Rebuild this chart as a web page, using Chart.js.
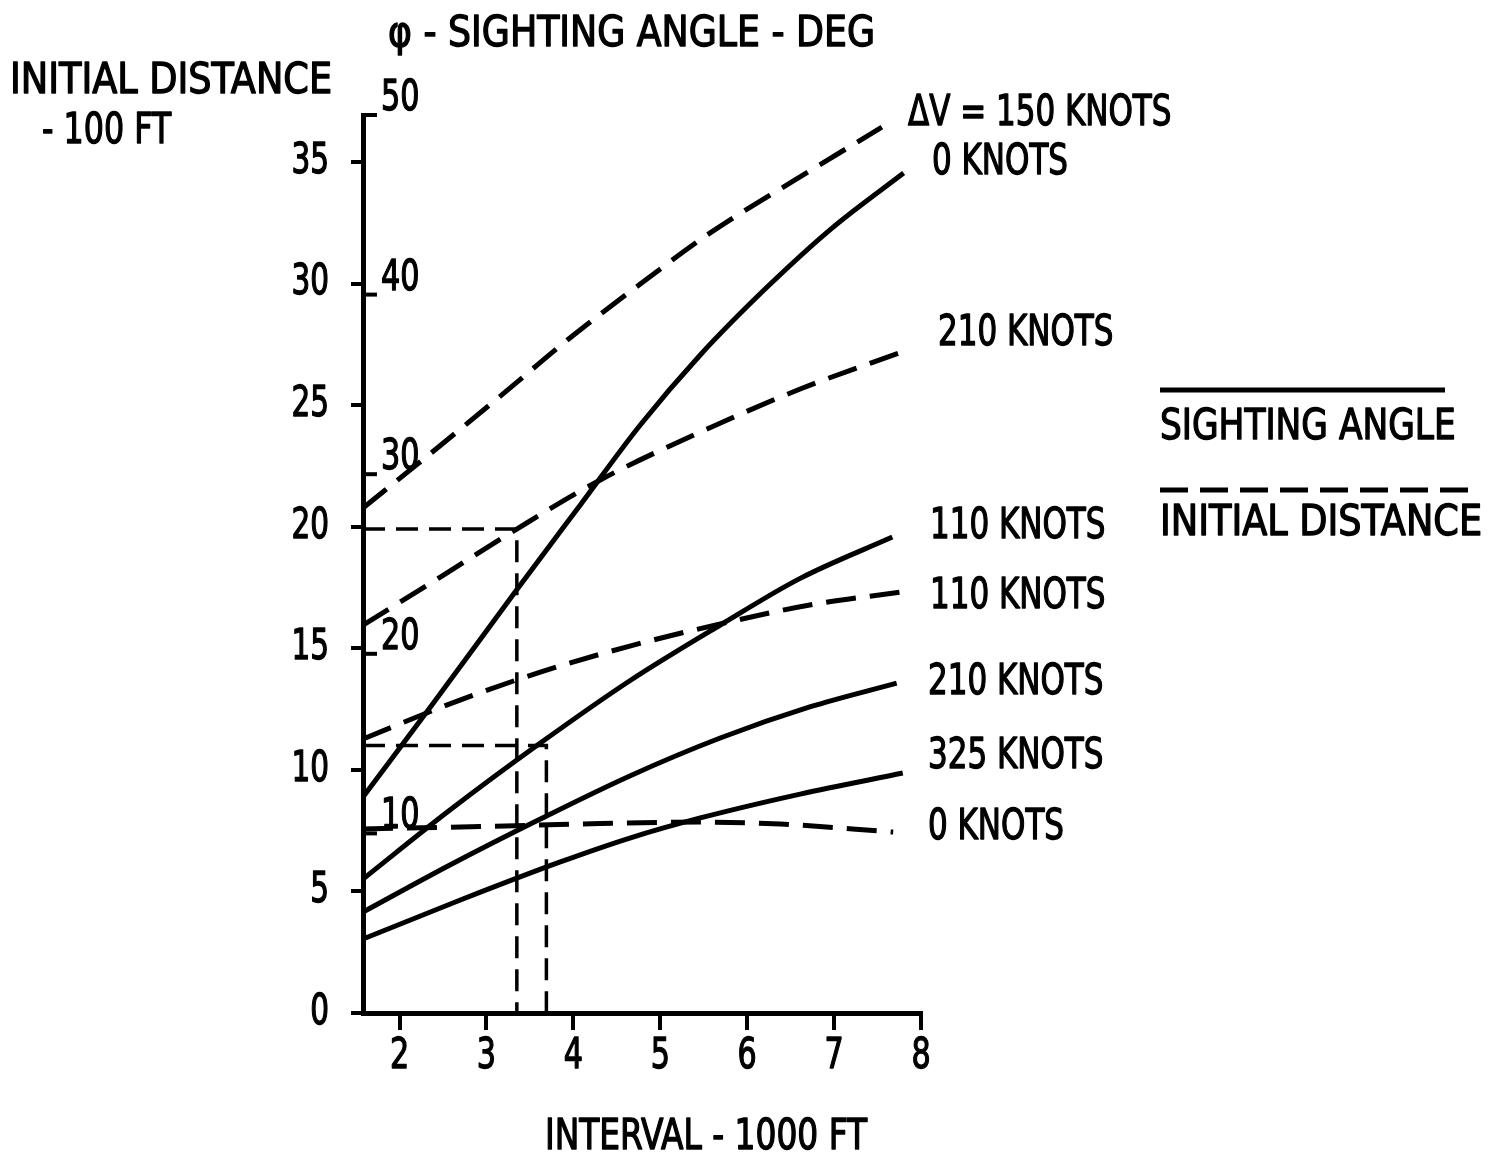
<!DOCTYPE html>
<html>
<head>
<meta charset="utf-8">
<title>Sighting angle and initial distance vs interval</title>
<script src="https://cdn.jsdelivr.net/npm/chart.js@4/dist/chart.umd.min.js"></script>
<style>
  html, body { margin: 0; padding: 0; background: #fff; }
  canvas { display: block; }
</style>
</head>
<body>
<canvas id="myChart" width="1492" height="1163"></canvas>
<script>
const FONT = "'DejaVu Sans Condensed', 'Liberation Sans Narrow', sans-serif";

// tick values
const xTicks = [2, 3, 4, 5, 6, 7, 8];
const distTicks = [0, 5, 10, 15, 20, 25, 30, 35];
const angleTicks = [10, 20, 30, 40, 50];

// initial distance, 100 ft (dashed)
const dist150X = [1.58, 2.35, 3.16, 3.96, 4.77, 5.57, 6.49, 7.55];
const dist150Y = [20.77, 22.99, 25.37, 27.76, 29.98, 32.07, 34.13, 36.43];
const dist210X = [1.58, 2.47, 3.33, 4.31, 5.46, 6.61, 7.84];
const dist210Y = [15.95, 17.93, 19.86, 21.92, 23.89, 25.66, 27.26];
const dist110X = [1.58, 2.58, 3.62, 4.65, 5.69, 6.72, 7.76];
const dist110Y = [11.27, 12.71, 14.02, 15.09, 16.0, 16.78, 17.31];
const dist0X = [1.58, 2.93, 4.31, 5.46, 6.38, 7.68];
const dist0Y = [7.57, 7.67, 7.79, 7.85, 7.77, 7.44];

// sighting angle, deg (solid)
const ang0X = [1.58, 2.39, 3.33, 4.08, 4.77, 5.46, 6.23, 6.99, 7.8];
const ang0Y = [12.03, 17.26, 23.44, 28.29, 32.74, 36.64, 40.42, 43.76, 46.77];
const ang110X = [1.58, 2.58, 3.62, 4.65, 5.69, 6.61, 7.67];
const ang110Y = [7.46, 11.3, 15.03, 18.5, 21.6, 24.2, 26.5];
const ang210X = [1.58, 2.58, 3.62, 4.65, 5.69, 6.72, 7.72];
const ang210Y = [5.62, 8.24, 10.8, 13.2, 15.31, 17.04, 18.37];
const ang325X = [1.58, 2.7, 3.85, 4.65, 5.46, 6.61, 7.79];
const ang325Y = [4.12, 6.29, 8.41, 9.74, 10.86, 12.19, 13.36];

// read-off guide lines
const guideAX = [1.58, 3.35, 3.35];
const guideAY = [19.9, 19.9, 0];
const guideBX = [1.58, 3.69, 3.69];
const guideBY = [11.0, 11.0, 0];

const pts = (xs, ys) => xs.map((x, i) => ({ x: x, y: ys[i] }));

function curve(label, xs, ys, dashed, nudge) {
  return {
    data: pts(xs, ys),
    endLabel: label,
    nudge: nudge,
    yAxisID: dashed ? 'y' : 'ang',
    borderColor: '#000',
    borderWidth: 5,
    borderDash: dashed ? [30, 14] : [],
    cubicInterpolationMode: 'monotone',
    pointRadius: 0,
    fill: false,
    clip: false
  };
}

function guide(xs, ys) {
  return {
    data: pts(xs, ys),
    yAxisID: 'y',
    borderColor: '#000',
    borderWidth: 3.5,
    borderDash: [22, 11],
    tension: 0,
    pointRadius: 0,
    fill: false,
    clip: false
  };
}

// narrow, heavy lettering: squeeze each string horizontally and thicken it
function text(ctx, str, x, y, squeeze) {
  const w = ctx.measureText(str).width * squeeze;
  ctx.fillText(str, x, y, w);
  ctx.strokeText(str, x, y, w);
}

const annotate = {
  id: 'annotate',
  afterDraw(chart) {
    const ctx = chart.ctx;
    const area = chart.chartArea;
    const sx = chart.scales.x;
    const sy = chart.scales.y;
    const ang = chart.scales.ang;
    ctx.save();
    ctx.fillStyle = '#000';
    ctx.strokeStyle = '#000';
    ctx.font = '42px ' + FONT;
    ctx.textBaseline = 'middle';
    ctx.lineJoin = 'round';

    // angle scale marks, on the inside of the axis line
    ctx.lineWidth = 4;
    angleTicks.forEach(v => {
      const py = ang.getPixelForValue(v);
      ctx.beginPath();
      ctx.moveTo(area.left, py);
      ctx.lineTo(area.left + 14, py);
      ctx.stroke();
    });

    ctx.lineWidth = 1.3;

    // tick labels
    ctx.textAlign = 'right';
    sy.ticks.forEach(t => text(ctx, String(t.value), area.left - 34, sy.getPixelForValue(t.value), 0.78));
    ctx.textAlign = 'center';
    sx.ticks.forEach(t => text(ctx, String(t.value), sx.getPixelForValue(t.value), area.bottom + 44, 0.8));
    ctx.textAlign = 'left';
    angleTicks.forEach(v => text(ctx, String(v), area.left + 18, ang.getPixelForValue(v) - 16, 0.8));

    // curve names at the right-hand ends
    chart.data.datasets.forEach((ds, i) => {
      if (!ds.endLabel) return;
      const meta = chart.getDatasetMeta(i);
      const last = meta.data[meta.data.length - 1];
      text(ctx, ds.endLabel, area.right + 8 + ds.nudge[0], last.y + ds.nudge[1], 0.82);
    });

    // titles
    text(ctx, '\u03C6 - SIGHTING ANGLE - DEG', 388, 35, 0.96);
    text(ctx, 'INITIAL DISTANCE', 10, 82, 0.97);
    text(ctx, '- 100 FT', 42, 132, 0.84);
    text(ctx, 'INTERVAL - 1000 FT', 545, 1138, 0.87);

    // key
    text(ctx, 'SIGHTING ANGLE', 1160, 428, 0.91);
    text(ctx, 'INITIAL DISTANCE', 1160, 524, 0.97);
    ctx.lineWidth = 5;
    ctx.beginPath();
    ctx.moveTo(1160, 390);
    ctx.lineTo(1445, 390);
    ctx.stroke();
    ctx.setLineDash([28, 12]);
    ctx.beginPath();
    ctx.moveTo(1160, 490);
    ctx.lineTo(1475, 490);
    ctx.stroke();
    ctx.restore();
  }
};

const ctx = document.getElementById('myChart').getContext('2d');

const myChart = new Chart(ctx, {
  type: 'line',
  data: {
    datasets: [
      curve('\u0394V = 150 KNOTS', dist150X, dist150Y, true, [-21, -13]),
      curve('210 KNOTS', dist210X, dist210Y, true, [9, -16]),
      curve('110 KNOTS', dist110X, dist110Y, true, [1, 5]),
      curve('0 KNOTS', dist0X, dist0Y, true, [-1, -4]),
      curve('0 KNOTS', ang0X, ang0Y, false, [3, -10]),
      curve('110 KNOTS', ang110X, ang110Y, false, [1, -10]),
      curve('210 KNOTS', ang210X, ang210Y, false, [-1, 0]),
      curve('325 KNOTS', ang325X, ang325Y, false, [-1, -16]),
      guide(guideAX, guideAY),
      guide(guideBX, guideBY)
    ]
  },
  options: {
    responsive: false,
    animation: false,
    layout: { padding: { top: 115, right: 571, bottom: 0, left: 0 } },
    plugins: {
      legend: { display: false },
      title: { display: false },
      tooltip: { enabled: false }
    },
    scales: {
      x: {
        type: 'linear',
        min: 1.58,
        max: 8,
        afterBuildTicks: s => { s.ticks = xTicks.map(v => ({ value: v })); },
        afterFit: s => { s.height = 150; },
        grid: { drawOnChartArea: false, drawTicks: true, tickLength: 17, color: '#000', lineWidth: 4 },
        border: { display: true, color: '#000', width: 5 },
        ticks: { display: false }
      },
      y: {
        type: 'linear',
        position: 'left',
        min: 0,
        max: 36.93,
        afterBuildTicks: s => { s.ticks = distTicks.map(v => ({ value: v })); },
        afterFit: s => { s.width = 363; },
        grid: { drawOnChartArea: false, drawTicks: true, tickLength: 12, color: '#000', lineWidth: 4 },
        border: { display: true, color: '#000', width: 5 },
        ticks: { display: false }
      },
      ang: {
        type: 'linear',
        position: 'left',
        display: false,
        min: 0,
        max: 50
      }
    }
  },
  plugins: [annotate]
});
</script>
</body>
</html>
